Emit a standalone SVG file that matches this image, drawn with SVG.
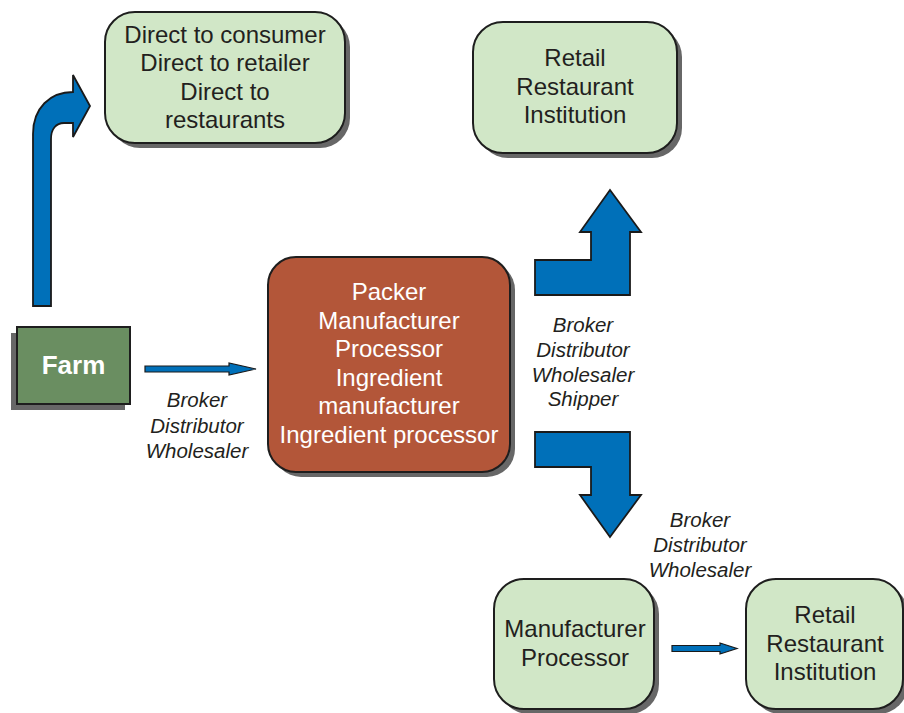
<svg xmlns="http://www.w3.org/2000/svg" width="904" height="713" viewBox="0 0 904 713">
<style>
.box{fill:#d1e7c7;stroke:#1e1e1e;stroke-width:2}
.shadow{fill:#676767}
.t{font-family:"Liberation Sans",Arial,sans-serif;font-size:24px;fill:#231f20;text-anchor:middle}
.w{fill:#ffffff}
.lbl{font-family:"Liberation Sans",Arial,sans-serif;font-size:20.5px;font-style:italic;fill:#231f20;text-anchor:middle}
.arr{fill:#0070b9;stroke:#1a1a1a;stroke-width:1.8;stroke-linejoin:miter}
.thin{fill:#0070b9;stroke:#1a1a1a;stroke-width:1.2}
</style>
<rect width="904" height="713" fill="#ffffff"/>
<g id="connectors">
<path class="arr" d="M33,306 L33,134 C33,108 50,92 73,92 L73,75 L90,106 L73,137 L73,123 L64,123 C56,123 51,129 51,139 L51,306 Z"/>
<path class="thin" d="M145,366 L229,366 L229,363 L256,369 L229,375 L229,372 L145,372 Z"/>
<path class="arr" d="M535,260 L591,260 L591,232 L580,232 L610,190 L641,232 L630,232 L630,295 L535,295 Z"/>
<path class="arr" d="M535,432 L630,432 L630,495 L641,495 L610,537 L580,495 L591,495 L591,467 L535,467 Z"/>
<path class="thin" d="M672,645.5 L720,645.5 L720,643 L737,648.5 L720,654 L720,651.5 L672,651.5 Z"/>
</g>
<g id="direct">
<rect class="shadow" x="110" y="17" width="240" height="131" rx="30"/>
<rect class="box" x="105" y="12" width="240" height="131" rx="30"/>
<text class="t" x="225" y="43">Direct to consumer</text>
<text class="t" x="225" y="71">Direct to retailer</text>
<text class="t" x="225" y="99.5">Direct to</text>
<text class="t" x="225" y="128">restaurants</text>
</g>
<g id="retail-top">
<rect class="shadow" x="478" y="27" width="204" height="131" rx="30"/>
<rect class="box" x="473" y="22" width="204" height="131" rx="30"/>
<text class="t" x="575" y="66">Retail</text>
<text class="t" x="575" y="94.5">Restaurant</text>
<text class="t" x="575" y="123">Institution</text>
</g>
<g id="farm">
<rect class="shadow" x="11" y="333" width="114" height="77"/>
<rect x="17" y="327" width="113" height="77" fill="#6a8e61" stroke="#1e1e1e" stroke-width="2"/>
<text x="73.5" y="374" font-family="Liberation Sans,Arial,sans-serif" font-size="26" font-weight="bold" fill="#ffffff" text-anchor="middle">Farm</text>
</g>
<g id="label-left">
<text class="lbl" x="197" y="407">Broker</text>
<text class="lbl" x="197" y="433">Distributor</text>
<text class="lbl" x="197" y="458">Wholesaler</text>
</g>
<g id="packer">
<rect class="shadow" x="273" y="262" width="242" height="215" rx="28"/>
<rect x="268" y="257" width="242" height="215" rx="28" fill="#b35639" stroke="#1e1e1e" stroke-width="2"/>
<text class="t w" x="389" y="300">Packer</text>
<text class="t w" x="389" y="328.6">Manufacturer</text>
<text class="t w" x="389" y="357.2">Processor</text>
<text class="t w" x="389" y="385.8">Ingredient</text>
<text class="t w" x="389" y="414.4">manufacturer</text>
<text class="t w" x="389" y="443">Ingredient processor</text>
</g>
<g id="label-mid">
<text class="lbl" x="583" y="332">Broker</text>
<text class="lbl" x="583" y="357">Distributor</text>
<text class="lbl" x="583" y="382">Wholesaler</text>
<text class="lbl" x="583" y="406">Shipper</text>
</g>
<g id="label-right">
<text class="lbl" x="700" y="527">Broker</text>
<text class="lbl" x="700" y="552">Distributor</text>
<text class="lbl" x="700" y="577">Wholesaler</text>
</g>
<g id="manufacturer">
<rect class="shadow" x="499" y="584" width="160" height="130" rx="30"/>
<rect class="box" x="494" y="579" width="160" height="130" rx="30"/>
<text class="t" x="575" y="637">Manufacturer</text>
<text class="t" x="575" y="666">Processor</text>
</g>
<g id="retail-bottom">
<rect class="shadow" x="751" y="584" width="157" height="130" rx="30"/>
<rect class="box" x="746" y="579" width="157" height="130" rx="30"/>
<text class="t" x="825" y="623">Retail</text>
<text class="t" x="825" y="651.5">Restaurant</text>
<text class="t" x="825" y="680">Institution</text>
</g>
</svg>
